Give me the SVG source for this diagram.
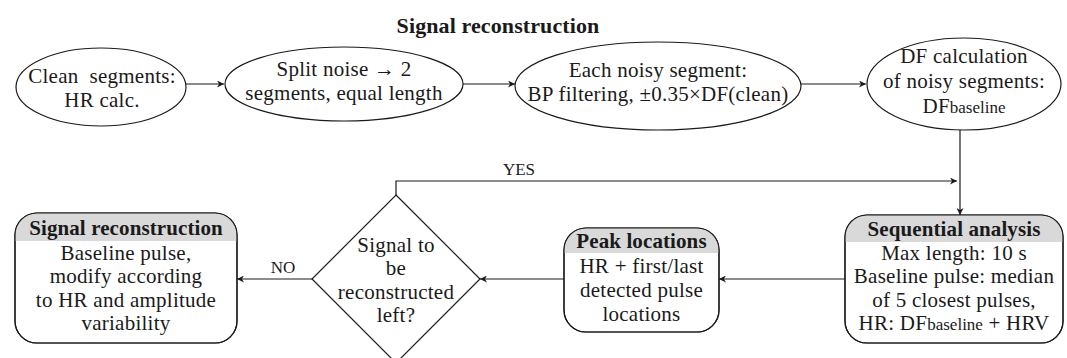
<svg xmlns="http://www.w3.org/2000/svg" width="1067" height="358" viewBox="0 0 1067 358">
  <style>
    text { font-family: "Liberation Serif", "DejaVu Serif", serif; font-size: 21px; letter-spacing: 0.25px; fill: #1a1a1a; text-anchor: middle; }
    .b { font-weight: bold; letter-spacing: 0.1px; }
    .title { font-size: 22px; }
    .sm { font-size: 17px; letter-spacing: 0; }
    .lbl { font-size: 17px; letter-spacing: 0; }
    .shape { fill: #ffffff; stroke: #1a1a1a; stroke-width: 1.2; }
    .hdr { fill: #d9d9d9; }
    .outline { fill: none; stroke: #1a1a1a; stroke-width: 1.2; }
    .edge { fill: none; stroke: #1a1a1a; stroke-width: 1.2; }
  </style>
  <defs>
    <marker id="arr" viewBox="0 0 10 10" refX="10" refY="5" markerWidth="7" markerHeight="7" orient="auto" markerUnits="userSpaceOnUse">
      <path d="M0,0 L10,5 L0,10 L3,5 Z" fill="#1a1a1a"/>
    </marker>
    <clipPath id="clipSeq"><rect x="845" y="215" width="218" height="128" rx="22"/></clipPath>
    <clipPath id="clipPeak"><rect x="564" y="228" width="155" height="104" rx="22"/></clipPath>
    <clipPath id="clipRec"><rect x="15" y="213" width="222" height="130" rx="22"/></clipPath>
  </defs>

  <text class="b title" x="498" y="33">Signal reconstruction</text>

  <g id="connectors">
    <line class="edge" x1="186" y1="84" x2="224" y2="84" marker-end="url(#arr)"/>
    <line class="edge" x1="463" y1="84" x2="515" y2="84" marker-end="url(#arr)"/>
    <line class="edge" x1="801" y1="84" x2="866" y2="84" marker-end="url(#arr)"/>
    <line class="edge" x1="960" y1="130" x2="960" y2="215" marker-end="url(#arr)"/>
    <polyline class="edge" points="396,195 396,181 957,181" marker-end="url(#arr)"/>
    <text class="lbl" x="519" y="175">YES</text>
    <line class="edge" x1="845" y1="279" x2="719" y2="279" marker-end="url(#arr)"/>
    <line class="edge" x1="564" y1="279" x2="480" y2="279" marker-end="url(#arr)"/>
    <line class="edge" x1="312" y1="279" x2="237" y2="279" marker-end="url(#arr)"/>
    <text class="lbl" x="283" y="273">NO</text>
  </g>

  <g id="clean">
    <ellipse class="shape" cx="101" cy="87" rx="85" ry="39"/>
    <text x="102" y="83" xml:space="preserve">Clean  segments:</text>
    <text x="102" y="107">HR calc.</text>
  </g>

  <g id="split">
    <ellipse class="shape" cx="344" cy="84" rx="119" ry="37"/>
    <text x="344" y="76">Split noise → 2</text>
    <text x="344" y="100">segments, equal length</text>
  </g>

  <g id="filter">
    <ellipse class="shape" cx="658" cy="86" rx="143" ry="44"/>
    <text x="658" y="77">Each noisy segment:</text>
    <text x="658" y="101">BP filtering, ±0.35×DF(clean)</text>
  </g>

  <g id="df">
    <ellipse class="shape" cx="964" cy="84" rx="97" ry="46"/>
    <text x="964" y="63">DF calculation</text>
    <text x="964" y="88">of noisy segments:</text>
    <text x="964" y="113">DF<tspan class="sm">baseline</tspan></text>
  </g>

  <g id="sequential">
    <rect class="shape" x="845" y="215" width="218" height="128" rx="22"/>
    <rect class="hdr" x="845" y="215" width="218" height="27" clip-path="url(#clipSeq)"/>
    <rect class="outline" x="845" y="215" width="218" height="128" rx="22"/>
    <text class="b" x="954" y="236">Sequential analysis</text>
    <text x="954" y="259.5">Max length: 10 s</text>
    <text x="954" y="283">Baseline pulse: median</text>
    <text x="954" y="306.5">of 5 closest pulses,</text>
    <text x="954" y="330">HR: DF<tspan class="sm">baseline</tspan> + HRV</text>
  </g>

  <g id="peaks">
    <rect class="shape" x="564" y="228" width="155" height="104" rx="22"/>
    <rect class="hdr" x="564" y="228" width="155" height="25" clip-path="url(#clipPeak)"/>
    <rect class="outline" x="564" y="228" width="155" height="104" rx="22"/>
    <text class="b" x="641.5" y="248">Peak locations</text>
    <text x="641.5" y="273">HR + first/last</text>
    <text x="641.5" y="297">detected pulse</text>
    <text x="641.5" y="321">locations</text>
  </g>

  <g id="decision">
    <polygon class="shape" points="396,195 480,279 396,363 312,279"/>
    <text x="396" y="251.5">Signal to</text>
    <text x="396" y="275">be</text>
    <text x="396" y="298.5">reconstructed</text>
    <text x="396" y="322">left?</text>
  </g>

  <g id="reconstruction">
    <rect class="shape" x="15" y="213" width="222" height="130" rx="22"/>
    <rect class="hdr" x="15" y="213" width="222" height="28" clip-path="url(#clipRec)"/>
    <rect class="outline" x="15" y="213" width="222" height="130" rx="22"/>
    <text class="b" x="126" y="235">Signal reconstruction</text>
    <text x="126" y="259.5">Baseline pulse,</text>
    <text x="126" y="283">modify according</text>
    <text x="126" y="306.5">to HR and amplitude</text>
    <text x="126" y="330">variability</text>
  </g>
</svg>
